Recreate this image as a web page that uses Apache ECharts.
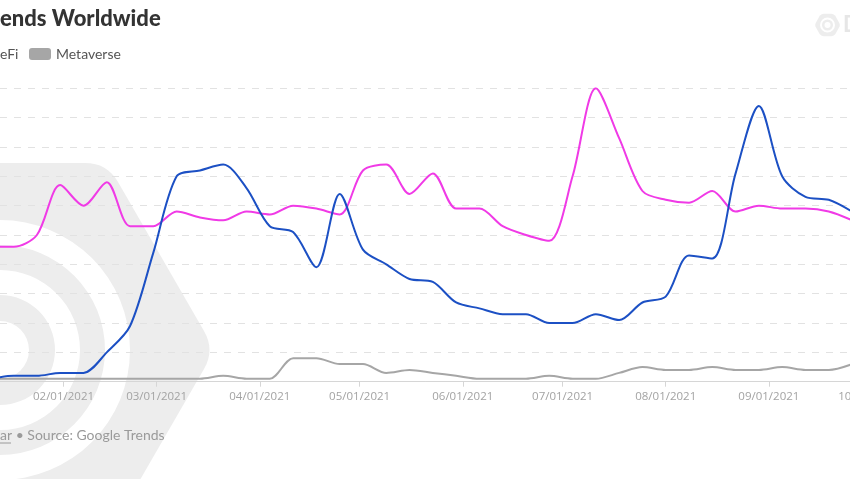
<!DOCTYPE html>
<html>
<head>
<meta charset="utf-8">
<script src="https://cdn.jsdelivr.net/npm/echarts@6/dist/echarts.min.js"></script>
<style>
html,body{margin:0;padding:0;background:#fff;}
#chart{width:850px;height:479px;}
</style>
</head>
<body>
<div id="chart"></div>
<script>
// ---- data (weekly Google Trends) ----
const weeks = ['2021-01-10','2021-01-17','2021-01-24','2021-01-31','2021-02-07','2021-02-14','2021-02-21','2021-02-28',
  '2021-03-07','2021-03-14','2021-03-21','2021-03-28','2021-04-04','2021-04-11','2021-04-18','2021-04-25',
  '2021-05-02','2021-05-09','2021-05-16','2021-05-23','2021-05-30','2021-06-06','2021-06-13','2021-06-20','2021-06-27',
  '2021-07-04','2021-07-11','2021-07-18','2021-07-25','2021-08-01','2021-08-08','2021-08-15','2021-08-22','2021-08-29',
  '2021-09-05','2021-09-12','2021-09-19','2021-09-26'];
const nft = [1,2,2,3,3,10,19,44, 70,72,74,66,53,51,39,64, 45,40,35,34,27,25,23,23,20, 20,23,21,27,29,43,42,71,94, 70,63,62,58];
const defi = [46,46,50,67,60,68,53,53, 58,56,55,58,57,60,59,57, 72,74,64,71,59,59,53,50,48, 70,100,83,65,62,61,65,58,60, 59,59,58,55];
const metaverse = [1,1,1,1,1,1,1,1, 1,1,2,1,1,8,8,6, 6,3,4,3,2,1,1,1,2, 1,1,3,5,4,4,5,4,4, 5,4,4,6];
const monthTicks = ['2021-02-01','2021-03-01','2021-04-01','2021-05-01','2021-06-01','2021-07-01','2021-08-01','2021-09-01','2021-10-01'];
const seriesNames = ['NFT','DeFi','Metaverse'];

const toTs = s => Date.parse(s + 'T00:00:00Z');
const DAY = 864e5;
const feb1 = toTs('2021-02-01');
const pair = arr => weeks.map((w, i) => [toTs(w), arr[i]]);

function fmt(v){
  const d = new Date(v);
  const p = n => (n < 10 ? '0' : '') + n;
  return p(d.getUTCMonth() + 1) + '/' + p(d.getUTCDate()) + '/' + d.getUTCFullYear();
}

function roundedHex(cx, cy, R, rr, steps){
  const v = [];
  for (let i = 0; i < 6; i++) { const a = Math.PI / 3 * i; v.push([cx + R * Math.cos(a), cy + R * Math.sin(a)]); }
  const out = [];
  for (let i = 0; i < 6; i++) {
    const p = v[i], pr = v[(i + 5) % 6], nx = v[(i + 1) % 6];
    const L = Math.hypot(pr[0] - p[0], pr[1] - p[1]);
    const a = [p[0] + (pr[0] - p[0]) * rr / L, p[1] + (pr[1] - p[1]) * rr / L];
    const b = [p[0] + (nx[0] - p[0]) * rr / L, p[1] + (nx[1] - p[1]) * rr / L];
    for (let k = 0; k <= steps; k++) {
      const t = k / steps;
      out.push([(1-t)*(1-t)*a[0] + 2*(1-t)*t*p[0] + t*t*b[0], (1-t)*(1-t)*a[1] + 2*(1-t)*t*p[1] + t*t*b[1]]);
    }
  }
  return out;
}

const WM = '#ededed';
const lineCommon = {type: 'line', showSymbol: false, smooth: 0.3};
const chart = echarts.init(document.getElementById('chart'), null, {renderer: 'canvas'});
chart.setOption({
  backgroundColor: '#ffffff',
  animation: false,
  title: {
    text: 'ends Worldwide', left: 0, top: 8, padding: 0,
    textStyle: {fontFamily: 'Lato', fontWeight: 900, fontSize: 22, color: '#333333'}
  },
  legend: {
    data: ['Metaverse'], left: 29, top: 47, padding: 0, itemWidth: 22, itemHeight: 12, icon: 'roundRect',
    textStyle: {fontFamily: 'Lato', fontSize: 14, lineHeight: 14, color: '#555555'}
  },
  grid: {left: 0, right: -25, top: 88.3, bottom: 97.3, containLabel: false, outerBoundsMode: 'none'},
  xAxis: {
    type: 'value',
    min: feb1 - 19.09 * DAY,
    max: feb1 + 243.9 * DAY,
    axisLine: {show: true, lineStyle: {color: '#d6d6d6', width: 1}},
    axisTick: {show: true, length: 5, lineStyle: {color: '#d6d6d6'}, customValues: monthTicks.map(toTs)},
    axisLabel: {
      show: true, margin: 9, color: '#a3a3a3', fontFamily: 'Open Sans', fontSize: 11.5,
      customValues: monthTicks.map(toTs), formatter: fmt
    },
    splitLine: {show: false}
  },
  yAxis: {
    type: 'value', min: 0, max: 100, interval: 10,
    axisLabel: {show: false}, axisLine: {show: false}, axisTick: {show: false},
    splitLine: {show: true, lineStyle: {color: '#e2e2e2', type: [7, 7], width: 1}}
  },
  series: [
    Object.assign({name: seriesNames[2], data: pair(metaverse), lineStyle: {color: '#a6a6a6', width: 2}, itemStyle: {color: '#a6a6a6'}}, lineCommon),
    Object.assign({name: seriesNames[1], data: pair(defi), lineStyle: {color: '#f03ae6', width: 2}, itemStyle: {color: '#f03ae6'}}, lineCommon),
    Object.assign({name: seriesNames[0], data: pair(nft), lineStyle: {color: '#1c50c4', width: 2}, itemStyle: {color: '#1c50c4'}}, lineCommon)
  ],
  graphic: {
    elements: [
      {type: 'polygon', z: -20, silent: true, shape: {points: roundedHex(-1, 350, 216, 22, 8)}, style: {fill: WM}},
      {type: 'ring', z: -19, silent: true, shape: {cx: 0, cy: 350, r: 130, r0: 105}, style: {fill: '#ffffff'}},
      {type: 'ring', z: -19, silent: true, shape: {cx: 0, cy: 350, r: 80, r0: 55}, style: {fill: '#ffffff'}},
      {type: 'circle', z: -19, silent: true, shape: {cx: 0, cy: 350, r: 29}, style: {fill: '#ffffff'}},
      {type: 'polygon', z: -20, silent: true, shape: {points: roundedHex(827.5, 25, 13, 3, 4)}, style: {fill: WM}},
      {type: 'ring', z: -19, silent: true, shape: {cx: 827.5, cy: 25, r: 7.5, r0: 5.5}, style: {fill: '#ffffff'}},
      {type: 'circle', z: -19, silent: true, shape: {cx: 827.5, cy: 25, r: 3}, style: {fill: '#ffffff'}},
      {type: 'text', z: -18, silent: true, x: 843, y: 25, style: {text: 'D', fill: '#e6e6e6', font: 'bold 22px Lato', textVerticalAlign: 'middle'}},
      {type: 'text', z: 10, x: 0, y: 54, style: {text: 'eFi', fill: '#555555', font: '14px Lato', textVerticalAlign: 'middle'}},
      {type: 'text', z: 10, x: 0, y: 435, style: {text: 'ar \u2022 Source: Google Trends', fill: '#9a9a9a', font: '14px Lato', textVerticalAlign: 'middle'}},
      {type: 'line', z: 10, shape: {x1: 0, y1: 443, x2: 11, y2: 443}, style: {stroke: '#9a9a9a', lineWidth: 1}}
    ]
  }
});
</script>
</body>
</html>
